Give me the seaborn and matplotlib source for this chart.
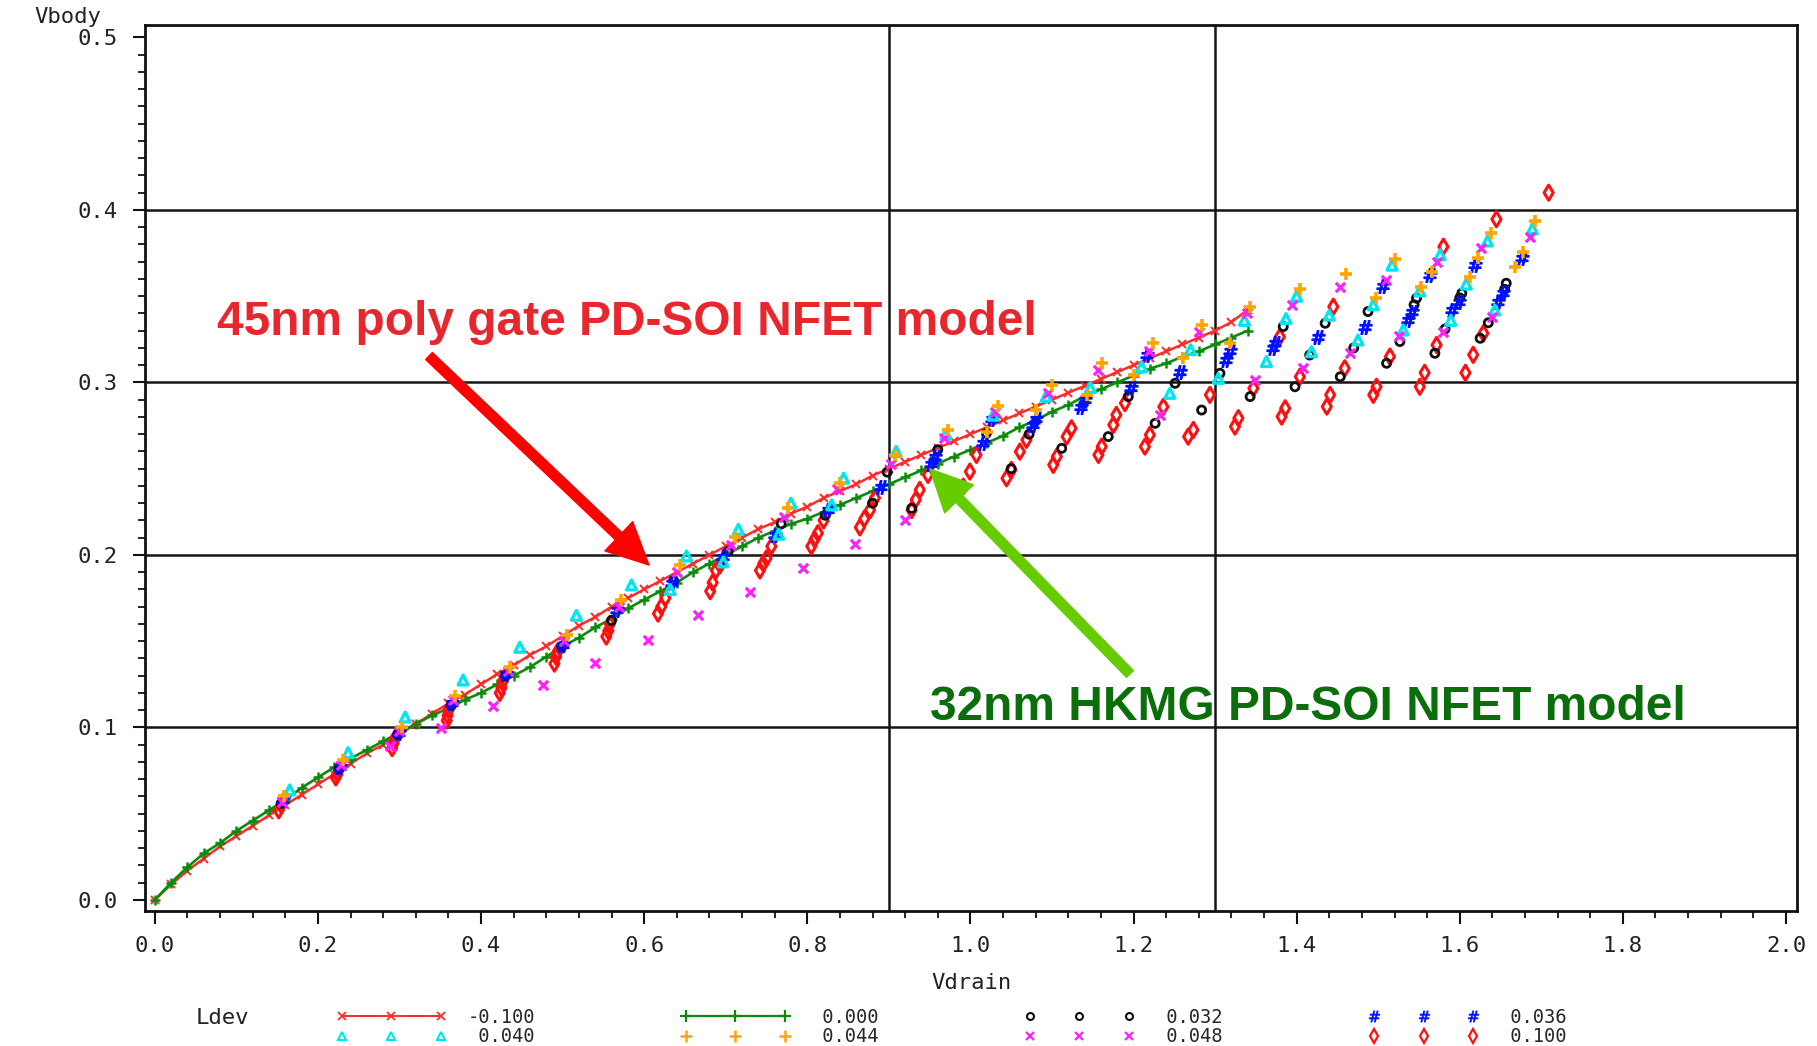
import matplotlib
matplotlib.use("Agg")
import matplotlib.pyplot as plt
import seaborn as sns
import pandas as pd
from matplotlib.lines import Line2D
from matplotlib.patches import FancyArrowPatch
from matplotlib.ticker import MultipleLocator, FormatStrFormatter

# ---------------- data ----------------
vdrain_model = [0.00, 0.02, 0.04, 0.06, 0.08, 0.10, 0.12, 0.14, 0.16, 0.18,
                0.20, 0.22, 0.24, 0.26, 0.28, 0.30, 0.32, 0.34, 0.36, 0.38,
                0.40, 0.42, 0.44, 0.46, 0.48, 0.50, 0.52, 0.54, 0.56, 0.58,
                0.60, 0.62, 0.64, 0.66, 0.68, 0.70, 0.72, 0.74, 0.76, 0.78,
                0.80, 0.82, 0.84, 0.86, 0.88, 0.90, 0.92, 0.94, 0.96, 0.98,
                1.00, 1.02, 1.04, 1.06, 1.08, 1.10, 1.12, 1.14, 1.16, 1.18,
                1.20, 1.22, 1.24, 1.26, 1.28, 1.30, 1.32, 1.34]
vbody_ldev_m100 = [0.000, 0.009, 0.017, 0.024, 0.031, 0.037, 0.043, 0.049, 0.055, 0.061,
                   0.067, 0.073, 0.079, 0.085, 0.090, 0.096, 0.102, 0.108, 0.114, 0.119,
                   0.125, 0.131, 0.136, 0.142, 0.147, 0.153, 0.159, 0.164, 0.170, 0.175,
                   0.180, 0.185, 0.190, 0.195, 0.200, 0.205, 0.210, 0.215, 0.219, 0.224,
                   0.228, 0.233, 0.237, 0.241, 0.246, 0.250, 0.254, 0.258, 0.262, 0.266,
                   0.270, 0.274, 0.278, 0.282, 0.286, 0.290, 0.294, 0.298, 0.302, 0.306,
                   0.310, 0.314, 0.318, 0.322, 0.326, 0.330, 0.335, 0.342]
vbody_ldev_000 = [0.000, 0.010, 0.019, 0.027, 0.033, 0.040, 0.046, 0.052, 0.058, 0.065,
                  0.071, 0.077, 0.082, 0.087, 0.092, 0.097, 0.102, 0.107, 0.111, 0.116,
                  0.120, 0.125, 0.130, 0.135, 0.141, 0.147, 0.152, 0.158, 0.163, 0.169,
                  0.174, 0.179, 0.184, 0.190, 0.195, 0.200, 0.205, 0.210, 0.214, 0.218,
                  0.221, 0.225, 0.229, 0.233, 0.237, 0.241, 0.245, 0.249, 0.253, 0.257,
                  0.261, 0.265, 0.269, 0.274, 0.278, 0.283, 0.287, 0.292, 0.296, 0.300,
                  0.304, 0.308, 0.311, 0.315, 0.318, 0.322, 0.326, 0.330]

ld032_x = [0.155, 0.226, 0.298, 0.364, 0.430, 0.499, 0.560, 0.636, 0.703, 0.768,
           0.822, 0.880, 0.898, 0.928, 0.960, 1.0196, 1.050, 1.072, 1.112, 1.1936,
           1.169, 1.251, 1.2265, 1.306, 1.2835, 1.3836, 1.343, 1.435, 1.416, 1.398,
           1.4875, 1.470, 1.4535, 1.547, 1.544, 1.5266, 1.5103, 1.6025, 1.600, 1.582,
           1.5695, 1.657, 1.655, 1.635, 1.625]
ld032_y = [0.056, 0.076, 0.096, 0.113, 0.130, 0.147, 0.162, 0.185, 0.202, 0.218,
           0.223, 0.230, 0.248, 0.227, 0.261, 0.2705, 0.250, 0.270, 0.2618, 0.2918,
           0.2686, 0.2995, 0.2763, 0.3053, 0.284, 0.3324, 0.2918, 0.3343, 0.3159, 0.2975,
           0.3411, 0.320, 0.3033, 0.3488, 0.345, 0.3237, 0.3111, 0.3517, 0.349, 0.331,
           0.3169, 0.3575, 0.354, 0.3346, 0.3256]

ld036_x = [0.157, 0.227, 0.299, 0.365, 0.431, 0.500, 0.567, 0.634, 0.697, 0.760,
           0.826, 0.891, 0.952, 0.956, 1.0157, 1.026, 1.077, 1.081, 1.136, 1.140,
           1.1975, 1.217, 1.257, 1.314, 1.318, 1.371, 1.373, 1.4265, 1.506, 1.4834,
           1.563, 1.541, 1.5367, 1.6185, 1.5985, 1.590, 1.676, 1.653, 1.647]
ld036_y = [0.058, 0.077, 0.097, 0.114, 0.131, 0.148, 0.168, 0.1835, 0.199, 0.2116,
           0.226, 0.2396, 0.253, 0.257, 0.2647, 0.279, 0.2754, 0.279, 0.286, 0.290,
           0.2966, 0.316, 0.306, 0.313, 0.318, 0.320, 0.323, 0.3265, 0.356, 0.3324,
           0.362, 0.3411, 0.3362, 0.3681, 0.3468, 0.342, 0.372, 0.3517, 0.3468]

ld040_x = [0.1655, 0.237, 0.307, 0.378, 0.4476, 0.517, 0.5845, 0.652, 0.7155, 0.780,
           0.8446, 0.909, 0.970, 1.028, 1.093, 1.147, 1.210, 1.270, 1.2446, 1.336,
           1.304, 1.400, 1.387, 1.363, 1.440, 1.4183, 1.517, 1.494, 1.4752, 1.576,
           1.551, 1.5307, 1.634, 1.608, 1.589, 1.689, 1.643, 0.632, 0.697, 0.765,
           0.830]
ld040_y = [0.0638, 0.0854, 0.106, 0.1275, 0.1465, 0.165, 0.1826, 0.1994, 0.2149, 0.230,
           0.2445, 0.260, 0.270, 0.281, 0.292, 0.297, 0.309, 0.319, 0.2937, 0.336,
           0.3024, 0.350, 0.337, 0.3121, 0.339, 0.3178, 0.368, 0.345, 0.3246, 0.374,
           0.353, 0.3304, 0.382, 0.357, 0.336, 0.389, 0.342, 0.180, 0.196, 0.212,
           0.229]

ld044_x = [0.158, 0.2305, 0.3025, 0.368, 0.435, 0.505, 0.572, 0.644, 0.711, 0.776,
           0.840, 0.907, 0.973, 1.034, 1.100, 1.161, 1.2235, 1.2845, 1.343, 1.404,
           1.461, 1.5205, 1.4977, 1.5655, 1.553, 1.6385, 1.622, 1.6127, 1.692, 1.678,
           1.668, 1.020, 1.081, 1.143, 1.200, 1.261, 1.318]
ld044_y = [0.060, 0.081, 0.1005, 0.118, 0.135, 0.1536, 0.174, 0.194, 0.2106, 0.227,
           0.2415, 0.258, 0.2725, 0.2864, 0.2986, 0.3115, 0.3227, 0.3333, 0.344, 0.354,
           0.3627, 0.3716, 0.3488, 0.3642, 0.3555, 0.3865, 0.372, 0.3613, 0.3936, 0.3758,
           0.3671, 0.2715, 0.284, 0.2928, 0.3043, 0.314, 0.3227]

ld048_x = [0.156, 0.228, 0.300, 0.366, 0.433, 0.502, 0.569, 0.640, 0.707, 0.772,
           0.836, 0.903, 0.968, 1.030, 1.095, 1.157, 1.219, 1.280, 1.339, 1.394,
           1.349, 1.4535, 1.408, 1.510, 1.465, 1.572, 1.525, 1.6265, 1.580, 1.686,
           1.639, 1.232, 0.288, 0.3515, 0.4143, 0.4764, 0.5396, 0.6044, 0.6665, 0.7296,
           0.7945, 0.858, 0.9197]
ld048_y = [0.057, 0.078, 0.098, 0.116, 0.133, 0.150, 0.170, 0.190, 0.206, 0.222,
           0.238, 0.253, 0.268, 0.283, 0.294, 0.307, 0.318, 0.329, 0.340, 0.345,
           0.3014, 0.3555, 0.3082, 0.3594, 0.3169, 0.370, 0.327, 0.3778, 0.3294, 0.3845,
           0.3382, 0.281, 0.089, 0.0995, 0.1126, 0.1246, 0.1376, 0.1507, 0.165, 0.1787,
           0.1923, 0.2064, 0.2203]

ld100_x = [0.152, 0.155,
           0.222, 0.224, 0.226,
           0.291, 0.293, 0.295,
           0.358, 0.359, 0.360,
           0.423, 0.425, 0.427,
           0.490, 0.492, 0.494,
           0.5536, 0.556, 0.558,
           0.617, 0.621, 0.626,
           0.681, 0.684, 0.688, 0.693,
           0.742, 0.746, 0.750, 0.756,
           0.805, 0.809, 0.813, 0.820,
           0.8645, 0.870, 0.877, 0.883,
           0.928, 0.933, 0.938, 0.948,
           0.9913, 0.9994, 1.0074,
           1.0443, 1.0503, 1.0607, 1.0687,
           1.1016, 1.106, 1.118, 1.124,
           1.157, 1.161, 1.1753, 1.179, 1.1895,
           1.214, 1.2201, 1.2366,
           1.267, 1.2734, 1.2937,
           1.3244, 1.3286, 1.347, 1.3795,
           1.3816, 1.386, 1.404, 1.445,
           1.437, 1.4411, 1.459,
           1.494, 1.498, 1.5144, 1.580,
           1.551, 1.557, 1.5716, 1.645,
           1.607, 1.6165, 1.629,
           1.709]
ld100_y = [0.052, 0.055,
           0.071, 0.073, 0.076,
           0.088, 0.091, 0.094,
           0.104, 0.107, 0.110,
           0.120, 0.123, 0.127,
           0.137, 0.141, 0.144,
           0.1527, 0.156, 0.160,
           0.166, 0.170, 0.175,
           0.179, 0.184, 0.191, 0.194,
           0.191, 0.195, 0.198, 0.205,
           0.205, 0.209, 0.2126, 0.220,
           0.216, 0.221, 0.226, 0.233,
           0.226, 0.232, 0.2377, 0.2464,
           0.2396, 0.2483, 0.258,
           0.2444, 0.2493, 0.2599, 0.2667,
           0.2522, 0.257, 0.2686, 0.2734,
           0.258, 0.2628, 0.2754, 0.2812, 0.288,
           0.2628, 0.2696, 0.2859,
           0.2686, 0.2725, 0.2928,
           0.2744, 0.2793, 0.2966, 0.3265,
           0.2802, 0.285, 0.3033, 0.3439,
           0.286, 0.2928, 0.3082,
           0.2928, 0.2975, 0.315, 0.3787,
           0.2975, 0.3056, 0.3217, 0.3946,
           0.3056, 0.316, 0.3285,
           0.410]

legend_title = "Ldev"
x_ticks = [0.0, 0.2, 0.4, 0.6, 0.8, 1.0, 1.2, 1.4, 1.6, 1.8, 2.0]
y_ticks = [0.0, 0.1, 0.2, 0.3, 0.4, 0.5]
grid_y = [0.1, 0.2, 0.3, 0.4]
grid_x = [0.9, 1.3]

# ---------------- style ----------------
sns.set_theme(style="white")
plt.rcParams['font.family'] = ['DejaVu Sans Mono', 'DejaVu Sans']
plt.rcParams['axes.edgecolor'] = '#111111'

W, H = 1817, 1046
fig = plt.figure(figsize=(W / 100, H / 100), dpi=100)
fig.patch.set_facecolor('white')
L, R, T, B = 145, 1797, 25, 911
ax = fig.add_axes([L / W, 1 - B / H, (R - L) / W, (B - T) / H])
ax.set_facecolor('white')

for gy in grid_y:
    ax.axhline(gy, color='#151515', lw=1.8, zorder=1)
for gx in grid_x:
    ax.axvline(gx, color='#151515', lw=1.8, zorder=1)

# model curves
sns.lineplot(x=vdrain_model, y=vbody_ldev_m100, ax=ax, color='#ff2a2a', lw=1.8,
             marker='x', markersize=6, markeredgewidth=1.4, markeredgecolor='#ff2a2a',
             estimator=None, sort=False, zorder=3)
sns.lineplot(x=vdrain_model, y=vbody_ldev_000, ax=ax, color='#0c8a0c', lw=1.9,
             marker='+', markersize=7.5, markeredgewidth=1.8, markeredgecolor='#0c8a0c',
             estimator=None, sort=False, zorder=3)

# scattered series
sns.scatterplot(x=ld100_x, y=ld100_y, ax=ax, marker='d', s=60,
                facecolor='none', edgecolor='#ff1010', linewidth=2.2, zorder=4)
sns.scatterplot(x=ld032_x, y=ld032_y, ax=ax, marker='o', s=34,
                facecolor='none', edgecolor='#101010', linewidth=2.0, zorder=4)
sns.scatterplot(x=ld036_x, y=ld036_y, ax=ax, marker=r'$\#$', s=95,
                color='#0010ff', edgecolor='#0010ff', linewidth=1.0, zorder=4)
sns.scatterplot(x=ld040_x, y=ld040_y, ax=ax, marker='^', s=50,
                facecolor='none', edgecolor='#00e5ee', linewidth=2.4, zorder=5)
sns.scatterplot(x=ld048_x, y=ld048_y, ax=ax, marker='x', s=45,
                color='#ff20ff', linewidth=2.3, zorder=5)
sns.scatterplot(x=ld044_x, y=ld044_y, ax=ax, marker='+', s=85,
                color='#ffa500', linewidth=2.6, zorder=6)

# axes
ax.set_xlim(-0.012, 2.0135)
ax.set_ylim(-0.0064, 0.5072)
ax.set_xticks(x_ticks)
ax.set_yticks(y_ticks)
ax.xaxis.set_major_formatter(FormatStrFormatter('%.1f'))
ax.yaxis.set_major_formatter(FormatStrFormatter('%.1f'))
ax.xaxis.set_minor_locator(MultipleLocator(0.04))
ax.yaxis.set_minor_locator(MultipleLocator(0.01))
ax.tick_params(which='major', direction='out', length=9, width=1.5,
               color='#111111', labelsize=16, labelcolor='#222222',
               bottom=True, left=True, top=False, right=False)
ax.tick_params(axis='x', which='major', pad=9)
ax.tick_params(axis='y', which='major', pad=11)
ax.tick_params(which='minor', direction='out', length=5, width=1.3,
               color='#111111', bottom=True, left=True, top=False, right=False)
for sp in ax.spines.values():
    sp.set_visible(True)
    sp.set_linewidth(2.0)
    sp.set_color('#111111')

ax.set_xlabel('Vdrain', fontsize=16, color='#222222')
ax.xaxis.set_label_coords(0.5, -0.081)
ax.xaxis.label.set_va('center')
ax.set_ylabel('Vbody', fontsize=16, color='#222222', rotation=0)
ax.yaxis.set_label_coords(-0.047, 1.009)
ax.yaxis.label.set_ha('center')
ax.yaxis.label.set_va('center')

# legend
def handle(color, marker, ls='none', lw=1.0, ms=6, mfc='none', mew=1.3):
    return Line2D([0], [0], color=color, marker=marker, linestyle=ls, linewidth=lw,
                  markersize=ms, markerfacecolor=mfc, markeredgecolor=color,
                  markeredgewidth=mew)

entries = {
    "-0.100": handle('#ff2a2a', 'x', ls='-', lw=1.4, ms=6, mfc='#ff2a2a'),
    " 0.040": handle('#00e5ee', '^', ms=6, mew=1.5),
    " 0.000": handle('#0c8a0c', '+', ls='-', lw=1.6, ms=8, mfc='#0c8a0c', mew=1.6),
    " 0.044": handle('#ffa500', '+', ms=8, mfc='#ffa500', mew=1.8),
    " 0.032": handle('#101010', 'o', ms=5, mew=1.5),
    " 0.048": handle('#ff20ff', 'x', ms=6, mfc='#ff20ff', mew=1.6),
    " 0.036": handle('#0010ff', r'$\#$', ms=8, mfc='#0010ff', mew=0.5),
    " 0.100": handle('#ff1010', 'd', ms=7, mew=1.6),
}
fig.legend(list(entries.values()), list(entries.keys()), ncol=4,
           loc='upper left', bbox_to_anchor=(336 / W, 1 - 1008 / H),
           bbox_transform=fig.transFigure, frameon=False,
           handlelength=5.9, handletextpad=1.1, columnspacing=7.75,
           labelspacing=0.02, numpoints=3, borderpad=0, borderaxespad=0,
           prop={'family': 'DejaVu Sans Mono', 'size': 13.5})
fig.text(222 / W, 1 - 1018 / H, legend_title, ha='center', va='center',
         fontsize=16, color='#222222', family='DejaVu Sans Mono')

# annotations
fig.text(217 / W, 1 - 335 / H, "45nm poly gate PD-SOI NFET model",
         color='#e8262e', fontsize=34.5, fontweight='bold',
         family=['Liberation Sans', 'DejaVu Sans'], ha='left', va='baseline')
fig.text(930 / W, 1 - 720 / H, "32nm HKMG PD-SOI NFET model",
         color='#0a6e0a', fontsize=34.5, fontweight='bold',
         family=['Liberation Sans', 'DejaVu Sans'], ha='left', va='baseline')

red_arrow = FancyArrowPatch(posA=(429 / W, 1 - 356 / H), posB=(649 / W, 1 - 565 / H),
                            transform=fig.transFigure,
                            arrowstyle='simple,head_length=3.0,head_width=2.9,tail_width=0.7',
                            mutation_scale=10, color='#ff0000', shrinkA=0, shrinkB=0)
green_arrow = FancyArrowPatch(posA=(1130 / W, 1 - 674 / H), posB=(930 / W, 1 - 469 / H),
                              transform=fig.transFigure,
                              arrowstyle='simple,head_length=3.0,head_width=2.9,tail_width=0.7',
                              mutation_scale=10, color='#66cc00', shrinkA=0, shrinkB=0)
fig.add_artist(red_arrow)
fig.add_artist(green_arrow)

fig.savefig('out.png', dpi=100, facecolor='white')
